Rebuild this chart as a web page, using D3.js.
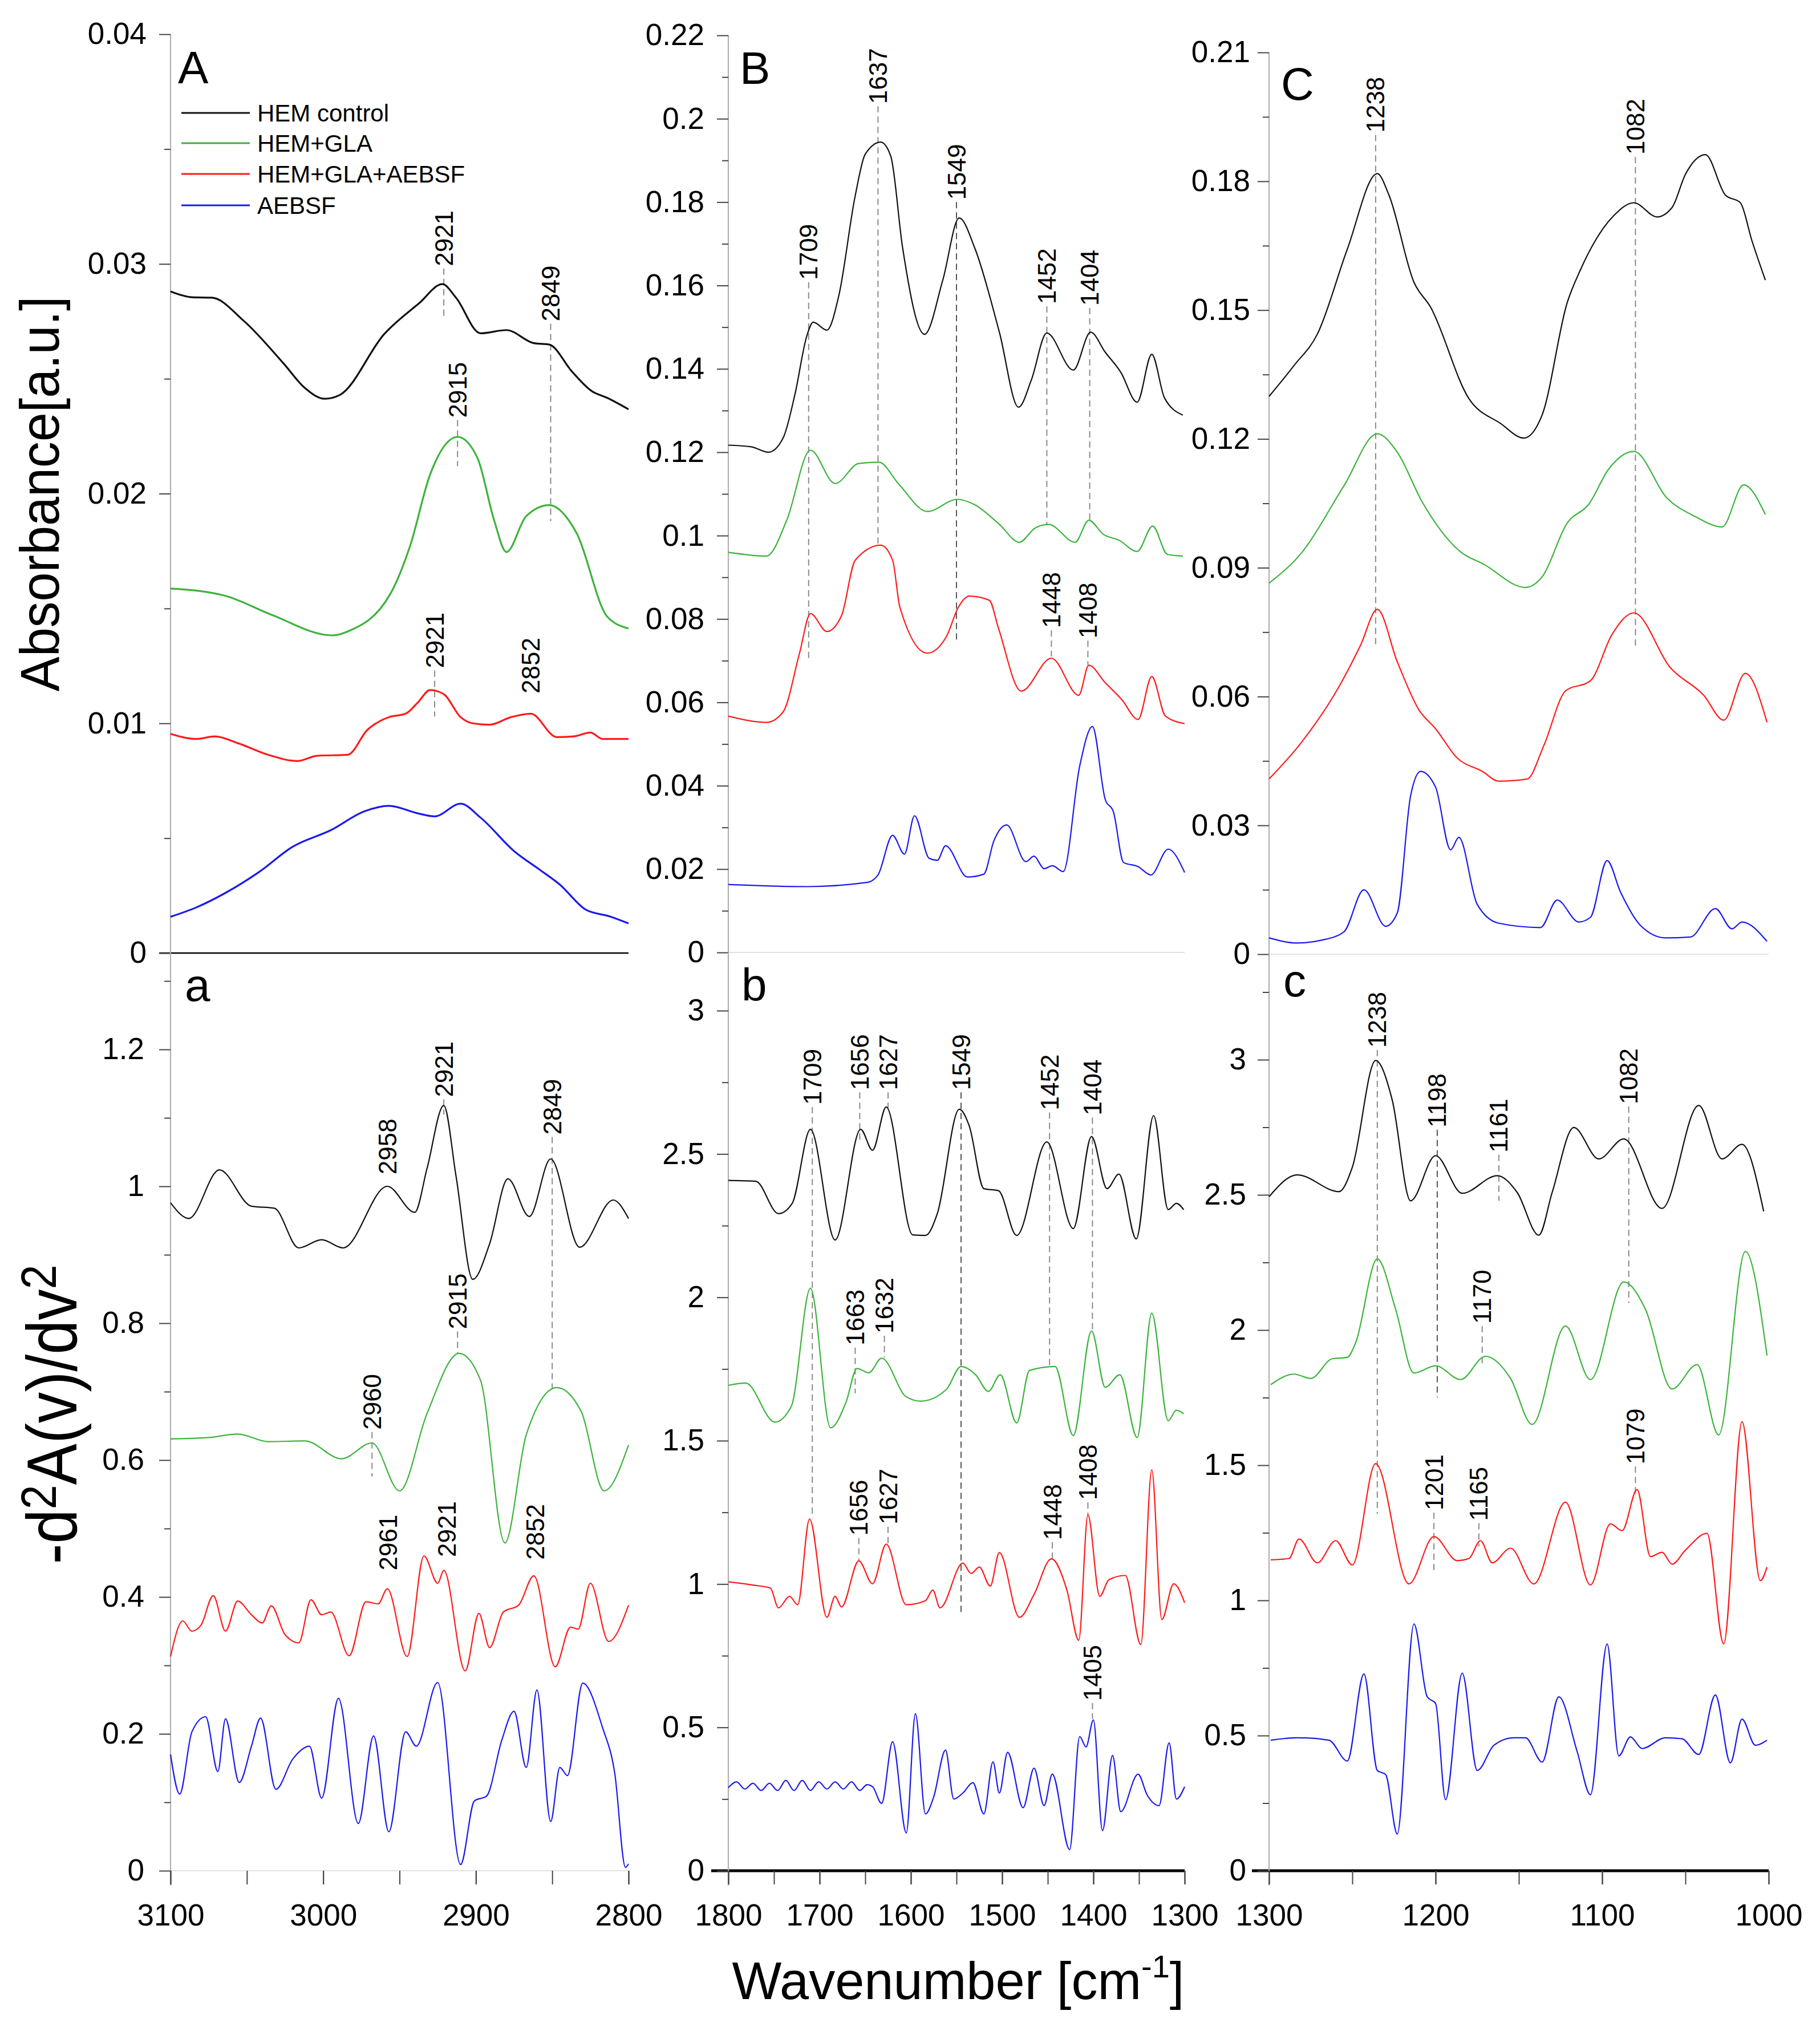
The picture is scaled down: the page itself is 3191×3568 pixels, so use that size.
<!DOCTYPE html>
<html><head><meta charset="utf-8">
<script src="https://cdn.jsdelivr.net/npm/d3@7"></script>
<style>body{margin:0;background:#fff}svg{display:block}</style>
</head><body>
<svg id="chart" width="3191" height="3568"></svg>
<script>
// ---------------- DATA ----------------
const seriesNames = ["HEM control", "HEM+GLA", "HEM+GLA+AEBSF", "AEBSF"];

// Panel A (absorbance, 3100-2800 cm-1)
const A_black = [[3100,0.0288],[3086,0.02855],[3073,0.02853],[3052,0.02752],[3026,0.02567],[3012,0.0246],[2999,0.02413],[2989,0.0243],[2960,0.02695],[2937,0.0283],[2922,0.02912],[2913,0.02853],[2897,0.02698],[2880,0.02712],[2862,0.02655],[2852,0.02649],[2837,0.02531],[2824,0.02446],[2814,0.02417],[2800,0.02367]];
const A_green = [[3100,0.01587],[3064,0.01555],[3034,0.01473],[2994,0.01383],[2984,0.0140],[2956,0.01564],[2943,0.01774],[2930,0.02083],[2912,0.02247],[2899,0.02156],[2888,0.01883],[2880,0.01746],[2867,0.01902],[2852,0.0195],[2834,0.01828],[2814,0.01465],[2800,0.01413]];
const A_red = [[3100,0.00954],[3083,0.00932],[3071,0.00943],[3056,0.00914],[3036,0.00863],[3017,0.00836],[3004,0.00859],[2984,0.00863],[2971,0.00972],[2957,0.01027],[2946,0.01042],[2938,0.01091],[2930,0.01145],[2921,0.01127],[2910,0.01027],[2902,0.0100],[2891,0.00994],[2877,0.01027],[2864,0.01042],[2847,0.0094],[2836,0.00943],[2825,0.0096],[2817,0.00932],[2800,0.00932]];
const A_blue = [[3100,0.00158],[3083,0.00199],[3064,0.00262],[3042,0.00353],[3020,0.00463],[2995,0.00535],[2973,0.00617],[2957,0.00641],[2938,0.00608],[2927,0.00595],[2910,0.0065],[2897,0.0059],[2875,0.00444],[2858,0.00362],[2845,0.00298],[2828,0.00189],[2812,0.00159],[2800,0.00129]];

// Panel B (absorbance, 1800-1300 cm-1)
const B_black = [[1800,0.1217],[1775,0.1213],[1756,0.1200],[1740,0.1234],[1727,0.1339],[1714,0.1479],[1707,0.1512],[1692,0.1493],[1679,0.1575],[1661,0.1815],[1650,0.1915],[1633,0.1944],[1622,0.191],[1609,0.169],[1585,0.1483],[1565,0.1613],[1547,0.1762],[1530,0.169],[1503,0.1488],[1482,0.1308],[1468,0.1373],[1451,0.1486],[1422,0.1397],[1403,0.1488],[1387,0.144],[1370,0.1392],[1352,0.132],[1336,0.1435],[1322,0.133],[1302,0.1289]];
const B_green = [[1800,0.096],[1758,0.0951],[1736,0.1037],[1710,0.1205],[1683,0.1125],[1657,0.1173],[1635,0.1176],[1613,0.1123],[1582,0.1058],[1549,0.1087],[1530,0.1074],[1503,0.1027],[1481,0.0984],[1464,0.1018],[1449,0.1027],[1420,0.0984],[1405,0.1037],[1389,0.1003],[1372,0.0989],[1352,0.0962],[1335,0.1023],[1319,0.0955],[1302,0.0951]];
const B_red = [[1800,0.0567],[1758,0.0552],[1740,0.0577],[1722,0.0718],[1710,0.0813],[1692,0.077],[1676,0.0808],[1661,0.0941],[1633,0.0977],[1620,0.0941],[1612,0.0828],[1582,0.0718],[1561,0.0758],[1548,0.0828],[1536,0.0855],[1514,0.0845],[1504,0.0778],[1479,0.0627],[1446,0.0706],[1416,0.0617],[1405,0.0689],[1387,0.0647],[1369,0.0607],[1351,0.0559],[1336,0.0662],[1321,0.0567],[1300,0.0549]];
const B_blue = [[1800,0.0163],[1713,0.0158],[1648,0.0168],[1636,0.0186],[1620,0.0281],[1607,0.0236],[1596,0.0328],[1580,0.0226],[1571,0.0221],[1562,0.0256],[1538,0.0181],[1520,0.0188],[1509,0.0268],[1495,0.0306],[1474,0.0218],[1465,0.0231],[1454,0.0201],[1445,0.0208],[1433,0.0194],[1415,0.0447],[1401,0.0542],[1387,0.0367],[1378,0.0337],[1367,0.0216],[1351,0.0206],[1337,0.0186],[1318,0.0248],[1300,0.0192]];

// Panel C (absorbance, 1300-1000 cm-1)
const C_black = [[1300,0.1299],[1285,0.1371],[1271,0.1444],[1253,0.1642],[1235,0.1818],[1228,0.1768],[1213,0.1565],[1203,0.1507],[1180,0.1294],[1161,0.1236],[1147,0.1202],[1136,0.1256],[1121,0.1517],[1113,0.1594],[1093,0.172],[1081,0.175],[1067,0.1717],[1058,0.1739],[1050,0.1816],[1038,0.1862],[1026,0.1768],[1017,0.175],[1010,0.1661],[1002,0.157]];
const C_green = [[1300,0.0864],[1280,0.0937],[1255,0.1091],[1235,0.1212],[1223,0.1169],[1208,0.1053],[1185,0.0937],[1171,0.0908],[1146,0.0854],[1136,0.0879],[1121,0.1004],[1108,0.1048],[1096,0.113],[1081,0.1171],[1061,0.1062],[1044,0.1019],[1028,0.0995],[1015,0.1093],[1002,0.1024]];
const C_red = [[1300,0.0408],[1280,0.0496],[1258,0.0623],[1245,0.072],[1235,0.0803],[1223,0.0681],[1210,0.0569],[1200,0.0525],[1187,0.0457],[1172,0.0426],[1162,0.0403],[1145,0.0408],[1135,0.0486],[1122,0.0613],[1107,0.0637],[1094,0.0745],[1081,0.0795],[1059,0.0667],[1039,0.0603],[1027,0.0545],[1014,0.0654],[1001,0.054]];
const C_blue = [[1300,0.0038],[1283,0.0026],[1268,0.0033],[1255,0.0052],[1243,0.015],[1230,0.0065],[1223,0.0096],[1215,0.0369],[1209,0.0426],[1200,0.0389],[1191,0.0243],[1186,0.0272],[1175,0.0116],[1162,0.0072],[1137,0.0062],[1127,0.0126],[1114,0.0075],[1107,0.0086],[1097,0.0218],[1089,0.0145],[1077,0.0067],[1062,0.0038],[1047,0.004],[1032,0.0106],[1022,0.0059],[1016,0.0075],[1001,0.003]];

// Panel a (second derivative, 3100-2800 cm-1)
const a_black = [[3100,0.976],[3088,0.953],[3068,1.024],[3047,0.971],[3032,0.968],[3016,0.91],[3001,0.922],[2987,0.91],[2958,1.0],[2940,0.962],[2932,1.026],[2921,1.118],[2913,1.015],[2902,0.864],[2891,0.916],[2879,1.011],[2865,0.956],[2851,1.04],[2832,0.911],[2810,0.98],[2800,0.953]];
const a_green = [[3100,0.631],[3075,0.633],[3056,0.638],[3036,0.627],[3012,0.628],[2988,0.602],[2968,0.625],[2950,0.555],[2932,0.668],[2911,0.756],[2897,0.717],[2881,0.479],[2867,0.637],[2847,0.706],[2831,0.671],[2816,0.555],[2800,0.622]];
const a_red = [[3100,0.313],[3092,0.365],[3086,0.35],[3080,0.359],[3072,0.402],[3064,0.35],[3056,0.394],[3047,0.374],[3040,0.362],[3034,0.387],[3025,0.345],[3016,0.333],[3008,0.396],[3001,0.374],[2995,0.378],[2983,0.314],[2972,0.393],[2964,0.39],[2958,0.412],[2945,0.313],[2934,0.46],[2925,0.42],[2921,0.439],[2907,0.292],[2898,0.376],[2891,0.326],[2882,0.378],[2872,0.388],[2862,0.431],[2848,0.298],[2838,0.356],[2833,0.353],[2825,0.42],[2813,0.335],[2800,0.388]];
const a_blue = [[3100,0.17],[3094,0.112],[3086,0.203],[3077,0.225],[3069,0.145],[3064,0.222],[3055,0.129],[3047,0.182],[3041,0.223],[3031,0.119],[3020,0.163],[3009,0.182],[3001,0.106],[2990,0.252],[2977,0.069],[2967,0.197],[2957,0.057],[2946,0.203],[2939,0.182],[2925,0.275],[2910,0.009],[2901,0.102],[2893,0.109],[2883,0.191],[2875,0.233],[2867,0.151],[2860,0.264],[2851,0.072],[2845,0.151],[2840,0.139],[2830,0.274],[2817,0.209],[2809,0.142],[2802,0.005],[2800,0.01]];

// Panel b (second derivative, 1800-1300 cm-1)
const b_black = [[1800,2.408],[1770,2.405],[1745,2.292],[1730,2.328],[1710,2.586],[1683,2.2],[1655,2.586],[1642,2.513],[1627,2.664],[1598,2.218],[1584,2.216],[1571,2.292],[1547,2.656],[1536,2.598],[1520,2.379],[1504,2.372],[1484,2.216],[1451,2.542],[1422,2.24],[1402,2.561],[1385,2.379],[1372,2.43],[1353,2.204],[1334,2.634],[1318,2.306],[1309,2.328],[1301,2.306]];
const b_green = [[1800,1.693],[1781,1.701],[1749,1.565],[1731,1.62],[1710,2.032],[1688,1.545],[1671,1.635],[1659,1.752],[1646,1.737],[1632,1.788],[1605,1.653],[1589,1.638],[1561,1.679],[1545,1.759],[1529,1.73],[1515,1.672],[1502,1.73],[1484,1.562],[1470,1.745],[1442,1.759],[1422,1.518],[1402,1.883],[1387,1.686],[1371,1.73],[1352,1.511],[1336,1.945],[1318,1.57],[1309,1.606],[1301,1.594]];
const b_red = [[1800,1.008],[1772,0.996],[1754,0.986],[1745,0.917],[1733,0.957],[1724,0.928],[1711,1.227],[1692,0.884],[1683,0.957],[1676,0.92],[1657,1.081],[1642,1.001],[1627,1.139],[1605,0.928],[1584,0.942],[1576,0.979],[1568,0.917],[1543,1.073],[1534,1.037],[1525,1.059],[1513,0.993],[1503,1.11],[1481,0.884],[1465,0.964],[1446,1.088],[1429,0.979],[1416,0.804],[1406,1.241],[1393,0.957],[1383,1.015],[1365,1.03],[1348,0.789],[1336,1.399],[1325,0.876],[1312,1.001],[1300,0.935]];
const b_blue = [[1800,0.29],[1791,0.31],[1782,0.285],[1773,0.305],[1764,0.28],[1755,0.305],[1746,0.28],[1737,0.315],[1728,0.28],[1719,0.315],[1710,0.28],[1701,0.31],[1692,0.285],[1683,0.31],[1674,0.285],[1665,0.31],[1656,0.28],[1648,0.30],[1642,0.293],[1632,0.235],[1620,0.45],[1605,0.132],[1595,0.548],[1584,0.198],[1575,0.257],[1562,0.421],[1553,0.25],[1543,0.271],[1532,0.307],[1520,0.198],[1510,0.38],[1503,0.271],[1494,0.413],[1477,0.22],[1465,0.358],[1454,0.227],[1445,0.337],[1426,0.074],[1415,0.468],[1408,0.432],[1400,0.526],[1390,0.14],[1379,0.402],[1370,0.206],[1351,0.337],[1341,0.264],[1328,0.227],[1317,0.446],[1309,0.25],[1300,0.293]];

// Panel c (second derivative, 1300-1000 cm-1)
const c_black = [[1300,2.493],[1283,2.574],[1258,2.512],[1250,2.602],[1236,2.997],[1226,2.85],[1215,2.478],[1200,2.645],[1184,2.506],[1163,2.571],[1151,2.509],[1138,2.351],[1130,2.509],[1117,2.749],[1102,2.633],[1087,2.707],[1064,2.45],[1042,2.831],[1028,2.633],[1016,2.687],[1003,2.439]];
const c_green = [[1299,1.798],[1285,1.837],[1275,1.821],[1262,1.894],[1253,1.899],[1248,1.953],[1235,2.263],[1224,2.077],[1213,1.841],[1200,1.868],[1185,1.817],[1170,1.903],[1155,1.821],[1142,1.651],[1122,2.015],[1107,1.817],[1087,2.178],[1074,2.077],[1058,1.782],[1043,1.872],[1030,1.612],[1014,2.291],[1001,1.906]];
const c_red = [[1299,1.15],[1288,1.155],[1282,1.227],[1271,1.139],[1260,1.221],[1250,1.131],[1236,1.506],[1216,1.061],[1201,1.236],[1187,1.147],[1180,1.155],[1173,1.221],[1166,1.139],[1155,1.193],[1141,1.061],[1122,1.363],[1107,1.057],[1095,1.283],[1088,1.258],[1079,1.41],[1071,1.162],[1064,1.178],[1058,1.134],[1050,1.186],[1037,1.248],[1027,0.839],[1016,1.661],[1005,1.073],[1001,1.123]];
const c_blue = [[1299,0.483],[1283,0.492],[1264,0.483],[1253,0.406],[1243,0.728],[1235,0.371],[1230,0.356],[1223,0.136],[1213,0.913],[1205,0.643],[1200,0.619],[1194,0.263],[1184,0.731],[1175,0.371],[1165,0.464],[1153,0.492],[1146,0.492],[1136,0.402],[1126,0.643],[1115,0.441],[1107,0.281],[1097,0.839],[1090,0.425],[1083,0.495],[1076,0.452],[1062,0.492],[1052,0.488],[1042,0.43],[1032,0.65],[1023,0.399],[1016,0.561],[1008,0.464],[1001,0.483]];

// Tick values
const A_ticks = [0, 0.01, 0.02, 0.03, 0.04];
const B_ticks = [0, 0.02, 0.04, 0.06, 0.08, 0.1, 0.12, 0.14, 0.16, 0.18, 0.2, 0.22];
const C_ticks = [0, 0.03, 0.06, 0.09, 0.12, 0.15, 0.18, 0.21];
const a_ticks = [0, 0.2, 0.4, 0.6, 0.8, 1, 1.2];
const b_ticks = [0, 0.5, 1, 1.5, 2, 2.5, 3];
const c_ticks = [0, 0.5, 1, 1.5, 2, 2.5, 3];
const x1_ticks = [3100, 3000, 2900, 2800];
const x2_ticks = [1800, 1700, 1600, 1500, 1400, 1300];
const x3_ticks = [1300, 1200, 1100, 1000];

// Peak annotations: [label, wavenumber, label bottom value, drop line end value]
const A_marks = [["2921",2921,0.0298,0.0277],["2849",2851,0.0274,0.0188],["2915",2912,0.0232,0.0212],["2921",2927,0.0123,0.0103],["2852",2864,0.0112,null]];
const B_marks = [["1709",1712,0.1608,0.070],["1637",1636,0.203,0.098],["1549",1550,0.180,0.075],["1452",1451,0.155,0.1027],["1404",1404,0.1546,0.1037],["1448",1446,0.0773,0.071],["1408",1406,0.0748,0.069]];
const C_marks = [["1238",1236,0.1908,0.072],["1082",1080,0.1857,0.071]];
const a_marks = [["2958",2958,1.014,null],["2921",2921,1.127,1.105],["2849",2850,1.072,0.704],["2915",2912,0.788,0.756],["2960",2968,0.641,0.576],["2961",2957.5,0.4355,null],["2921",2919,0.455,null],["2852",2861,0.451,null]];
const b_marks = [["1709",1708,2.664,1.23],["1656",1656,2.715,2.55],["1627",1625,2.715,2.66],["1549",1545,2.715,0.898],["1452",1448,2.645,1.76],["1404",1401,2.627,1.88],["1663",1661,1.825,1.665],["1632",1629,1.866,1.79],["1656",1657,1.161,1.08],["1627",1625,1.2,1.14],["1448",1445,1.146,1.09],["1408",1406,1.285,1.24],["1405",1401,0.585,0.53]];
const c_marks = [["1238",1235,3.036,1.32],["1198",1199,2.741,1.751],["1161",1162,2.648,2.478],["1082",1084,2.827,2.1],["1170",1172,2.015,1.87],["1201",1201,1.325,1.1],["1165",1174,1.286,1.2],["1079",1080,1.495,1.38]];

// ---------------- DRAWING ----------------
const FONT = "'Liberation Sans', Arial, Helvetica, sans-serif";
const colors = ["#111111", "#3bb33b", "#ff1a1a", "#1a1aee"];
const svg = d3.select("#chart");
svg.append("rect").attr("width", 3191).attr("height", 3568).attr("fill", "#fff");

const fmt = d => String(+d.toFixed(3));

function drawPanel(p) {
  const x = d3.scaleLinear().domain(p.xDomain).range(p.xRange);
  const y = d3.scaleLinear().domain([0, p.yMajorTop]).range([p.y0, p.yMajorPx]);
  const g = svg.append("g");
  const x0 = p.xRange[0], x1 = p.xRange[1];

  if (p.base === "black") {
    g.append("line").attr("x1", x0 - 20).attr("x2", x1).attr("y1", p.y0).attr("y2", p.y0).attr("stroke", "#000").attr("stroke-width", 2.5);
  } else if (p.base === "thick") {
    g.append("line").attr("x1", x0 - 30).attr("x2", x1).attr("y1", p.y0).attr("y2", p.y0).attr("stroke", "#000").attr("stroke-width", 5);
  } else {
    g.append("line").attr("x1", x0).attr("x2", x1).attr("y1", p.y0).attr("y2", p.y0).attr("stroke", "#e2e2e2").attr("stroke-width", 2);
  }

  g.append("line").attr("x1", x0).attr("x2", x0).attr("y1", p.axisTop).attr("y2", p.axisBottom).attr("stroke", "#b0b0b0").attr("stroke-width", 2.2);

  const minor = d3.range(0, p.minorMax + 1e-9, p.minorStep).filter(v => !p.ticks.some(t => Math.abs(t - v) < 1e-9));
  const minorAxis = g.append("g").attr("transform", `translate(${x0},0)`)
    .call(d3.axisLeft(y).tickValues(minor).tickSize(11).tickFormat(""));
  minorAxis.select(".domain").remove();
  minorAxis.selectAll("line").attr("stroke", "#444").attr("stroke-width", 2);

  const majorAxis = g.append("g").attr("transform", `translate(${x0},0)`)
    .call(d3.axisLeft(y).tickValues(p.ticks).tickSize(20).tickPadding(p.labelPad).tickFormat(fmt));
  majorAxis.select(".domain").remove();
  majorAxis.selectAll("line").attr("stroke", "#444").attr("stroke-width", 2);
  majorAxis.selectAll("text").attr("font-family", FONT).attr("font-size", 53).attr("fill", "#000");

  if (p.xTicks) {
    const minX = d3.range(p.xDomain[1], p.xDomain[0] + 1e-9, 50);
    const xa = g.append("g").attr("transform", `translate(0,${p.y0})`)
      .call(d3.axisBottom(x).tickValues(minX).tickSize(24).tickFormat(""));
    xa.select(".domain").remove();
    xa.selectAll("line").attr("stroke", "#444").attr("stroke-width", 2);
    const xl = g.append("g").attr("transform", `translate(0,${p.y0})`)
      .call(d3.axisBottom(x).tickValues(p.xTicks).tickSize(24).tickPadding(34).tickFormat(d => String(d)));
    xl.select(".domain").remove();
    xl.selectAll("line").attr("stroke", "#444").attr("stroke-width", 2);
    xl.selectAll("text").attr("font-family", FONT).attr("font-size", 53).attr("fill", "#000");
  }

  p.marks.forEach(m => {
    if (m[3] !== null) {
      const strong = (m[0] === "1549" || m[0] === "1198");
      g.append("line").attr("x1", x(m[1])).attr("x2", x(m[1]))
        .attr("y1", y(m[2])).attr("y2", y(m[3]))
        .attr("stroke", strong ? "#555" : "#8a8a8a").attr("stroke-width", 2).attr("stroke-dasharray", "11,7");
    }
  });

  const line = d3.line().x(d => x(d[0])).y(d => y(d[1])).curve(d3.curveMonotoneX);
  p.series.forEach((s, i) => {
    g.append("path").datum(s).attr("d", line).attr("fill", "none")
      .attr("stroke", colors[i]).attr("stroke-width", p.lw).attr("stroke-linejoin", "round");
  });

  p.marks.forEach(m => {
    g.append("text").attr("transform", `translate(${x(m[1])},${y(m[2]) - 4}) rotate(-90)`)
      .attr("font-family", FONT).attr("font-size", 44).attr("dominant-baseline", "central")
      .attr("fill", "#000").text(m[0]);
  });

  g.append("text").attr("x", p.letterPos[0]).attr("y", p.letterPos[1])
    .attr("font-family", FONT).attr("font-size", 80).attr("fill", "#000").text(p.letter);
  return {x, y, g};
}

const XA = [3100, 2800], XB = [1800, 1300], XC = [1300, 1000];
const RA = [299, 1102], RB = [1277, 2077], RC = [2225, 3101];

drawPanel({xDomain: XA, xRange: RA, y0: 1671, yMajorTop: 0.04, yMajorPx: 60, axisTop: 60, axisBottom: 1671,
  ticks: A_ticks, minorStep: 0.005, minorMax: 0.04, labelPad: 22, base: "black",
  series: [A_black, A_green, A_red, A_blue], lw: 3.2, marks: A_marks, letter: "A", letterPos: [312, 146]});
drawPanel({xDomain: XB, xRange: RB, y0: 1670, yMajorTop: 0.22, yMajorPx: 62, axisTop: 62, axisBottom: 1670,
  ticks: B_ticks, minorStep: 0.01, minorMax: 0.22, labelPad: 22, base: "faint",
  series: [B_black, B_green, B_red, B_blue], lw: 2.2, marks: B_marks, letter: "B", letterPos: [1297, 147]});
drawPanel({xDomain: XC, xRange: RC, y0: 1673, yMajorTop: 0.21, yMajorPx: 92, axisTop: 92, axisBottom: 1673,
  ticks: C_ticks, minorStep: 0.015, minorMax: 0.21, labelPad: 13, base: "faint",
  series: [C_black, C_green, C_red, C_blue], lw: 2.2, marks: C_marks, letter: "C", letterPos: [2246, 175]});

drawPanel({xDomain: XA, xRange: RA, y0: 3280, yMajorTop: 1.2, yMajorPx: 1840, axisTop: 1671, axisBottom: 3306,
  ticks: a_ticks, minorStep: 0.1, minorMax: 1.3, labelPad: 26, base: "faint", xTicks: x1_ticks,
  series: [a_black, a_green, a_red, a_blue], lw: 2.2, marks: a_marks, letter: "a", letterPos: [324, 1755]});
drawPanel({xDomain: XB, xRange: RB, y0: 3280, yMajorTop: 3, yMajorPx: 1772, axisTop: 1670, axisBottom: 3306,
  ticks: b_ticks, minorStep: 0.25, minorMax: 3.0, labelPad: 22, base: "thick", xTicks: x2_ticks,
  series: [b_black, b_green, b_red, b_blue], lw: 2.2, marks: b_marks, letter: "b", letterPos: [1300, 1754]});
drawPanel({xDomain: XC, xRange: RC, y0: 3280, yMajorTop: 3, yMajorPx: 1858, axisTop: 1673, axisBottom: 3306,
  ticks: c_ticks, minorStep: 0.25, minorMax: 3.25, labelPad: 20, base: "thick", xTicks: x3_ticks,
  series: [c_black, c_green, c_red, c_blue], lw: 2.2, marks: c_marks, letter: "c", letterPos: [2250, 1747]});

// legend in panel A
const legendRows = [198, 251, 305, 360];
seriesNames.forEach((name, i) => {
  svg.append("line").attr("x1", 318).attr("x2", 438).attr("y1", legendRows[i]).attr("y2", legendRows[i])
    .attr("stroke", colors[i]).attr("stroke-width", 3);
  svg.append("text").attr("x", 451).attr("y", legendRows[i]).attr("dominant-baseline", "central")
    .attr("font-family", FONT).attr("font-size", 42).attr("fill", "#000").text(name);
});

// axis titles
svg.append("text").attr("transform", "translate(103,866) rotate(-90)").attr("text-anchor", "middle")
  .attr("font-family", FONT).attr("font-size", 97).attr("textLength", 693).attr("lengthAdjust", "spacingAndGlyphs")
  .attr("fill", "#000").text("Absorbance[a.u.]");

const yl = svg.append("text").attr("transform", "translate(134,2480) rotate(-90)").attr("text-anchor", "middle")
  .attr("font-family", FONT).attr("font-size", 124).attr("textLength", 525).attr("lengthAdjust", "spacingAndGlyphs")
  .attr("fill", "#000");
yl.append("tspan").text("-d");
yl.append("tspan").attr("font-size", 88).attr("dy", -36).text("2");
yl.append("tspan").attr("dy", 36).text("A(v)/dv");
yl.append("tspan").attr("font-size", 88).attr("dy", -36).text("2");

const xl = svg.append("text").attr("x", 1680).attr("y", 3505).attr("text-anchor", "middle")
  .attr("font-family", FONT).attr("font-size", 92).attr("fill", "#000");
xl.append("tspan").text("Wavenumber [cm");
xl.append("tspan").attr("font-size", 56).attr("dy", -38).text("-1");
xl.append("tspan").attr("dy", 38).text("]");
</script>
</body></html>
